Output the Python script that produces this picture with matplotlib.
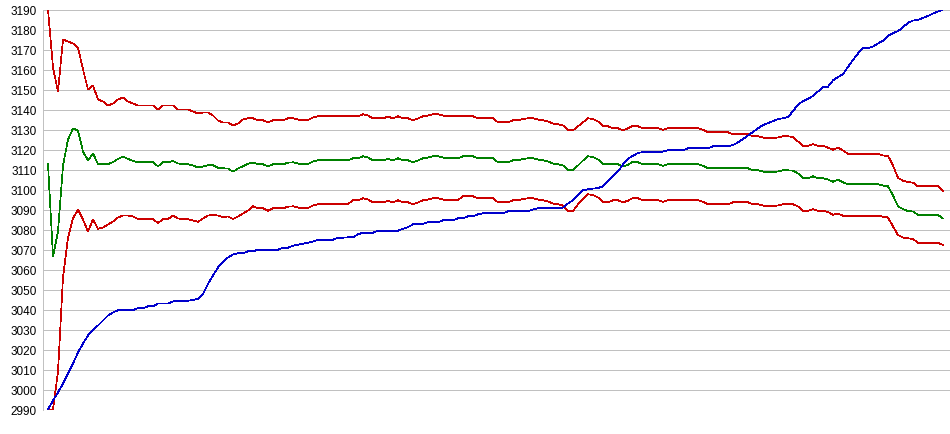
import matplotlib
matplotlib.use('Agg')
import matplotlib.pyplot as plt

# Values, one point every ~5 px
upper_band = [
    3190, 3161, 3149, 3175, 3174, 3173, 3171, 3160, 3150, 3152,
    3145, 3144, 3142, 3143, 3145, 3146, 3144, 3143, 3142, 3142,
    3142, 3142, 3140, 3142, 3142, 3142, 3140, 3140, 3140, 3139,
    3138, 3138.5, 3138.5, 3137, 3134.5, 3133.5, 3133.5, 3132, 3133, 3135,
    3135.6, 3135.6, 3134.6, 3134.6, 3133.6, 3134.6, 3134.6, 3134.6, 3135.6, 3135.6,
    3135, 3134.6, 3134.8, 3136, 3136.6, 3136.6, 3136.6, 3136.6, 3136.6, 3136.6,
    3136.6, 3136.6, 3136.6, 3137.6, 3137, 3135.6, 3135.6, 3135.6, 3136.4, 3135.6,
    3136.6, 3135.6, 3135.6, 3134.6, 3135.5, 3136.6, 3137, 3137.6, 3137.6, 3137,
    3136.6, 3136.6, 3136.6, 3136.6, 3136.6, 3136.6, 3135.6, 3135.6, 3135.6, 3135.6,
    3133.6, 3133.6, 3133.6, 3134.6, 3134.6, 3135.2, 3135.6, 3135.6, 3135, 3134.6,
    3134, 3133, 3132.6, 3132, 3129.6, 3129.6, 3131.6, 3133.6, 3135.6, 3135.2,
    3134, 3131.6, 3131.6, 3130.6, 3130.6, 3129.6, 3130.6, 3132, 3131.6, 3130.6,
    3130.6, 3130.6, 3130.6, 3129.8, 3130.6, 3130.6, 3130.6, 3130.6, 3130.6, 3130.6,
    3130.6, 3129.8, 3128.6, 3128.6, 3128.6, 3128.6, 3128.6, 3127.6, 3127.6, 3127.6,
    3127.6, 3126.6, 3126.6, 3126, 3125.6, 3125.8, 3126, 3126.6, 3126.6, 3126.2,
    3124, 3121.9, 3121.9, 3122.7, 3121.9, 3121.9, 3120.9, 3119.9, 3120.9, 3119.5,
    3117.8, 3117.8, 3117.8, 3117.8, 3117.8, 3117.8, 3117.8, 3117, 3116.8, 3112,
    3105.8, 3104.4, 3103.8, 3103.4, 3101.6, 3101.6, 3101.6, 3101.6, 3101.6, 3099.2,
]

middle_band = [
    3112.7, 3066.5, 3079, 3112, 3125, 3130.5, 3129.5, 3119, 3114.5, 3118,
    3112.7, 3112.7, 3112.7, 3113.7, 3115.3, 3116.4, 3115.3, 3114.3, 3113.6, 3113.6,
    3113.6, 3113.6, 3111.6, 3113.6, 3113.6, 3114.3, 3113, 3112.7, 3112.7, 3112,
    3111, 3111.5, 3112.2, 3112.2, 3110.8, 3110.6, 3110.5, 3108.9, 3110.5, 3111.6,
    3112.8, 3113.5, 3112.6, 3112.6, 3111.6, 3112.6, 3112.6, 3112.6, 3113.4, 3113.6,
    3113, 3112.6, 3112.8, 3114, 3114.6, 3114.6, 3114.6, 3114.6, 3114.6, 3114.6,
    3114.6, 3115.6, 3115.6, 3116.6, 3116, 3114.6, 3114.6, 3114.6, 3115.3, 3114.6,
    3115.6, 3114.6, 3114.6, 3113.6, 3114.5, 3115.6, 3116, 3116.6, 3116.6, 3116,
    3115.6, 3115.6, 3115.6, 3116.6, 3116.6, 3116.6, 3115.6, 3115.6, 3115.6, 3115.6,
    3113.6, 3113.6, 3113.6, 3114.6, 3114.6, 3115.2, 3115.6, 3115.6, 3115, 3114.6,
    3114, 3113, 3112.6, 3112, 3109.9, 3109.9, 3112, 3114.5, 3116.6, 3116.2,
    3115, 3112.6, 3112.6, 3112.6, 3112.6, 3111.6, 3112.3, 3114, 3113.6, 3112.6,
    3112.6, 3112.6, 3112.6, 3111.8, 3112.6, 3112.6, 3112.6, 3112.6, 3112.6, 3112.6,
    3112.6, 3111.8, 3110.6, 3110.6, 3110.6, 3110.6, 3110.6, 3110.6, 3110.6, 3110.6,
    3110.6, 3109.6, 3109.6, 3109, 3108.6, 3108.8, 3109, 3109.6, 3109.6, 3109.4,
    3108, 3105.6, 3105.6, 3106.6, 3105.6, 3105.6, 3105, 3103.9, 3104.8, 3103.6,
    3102.6, 3102.6, 3102.6, 3102.6, 3102.6, 3102.6, 3102.6, 3102, 3101.6, 3097,
    3091.6, 3090.2, 3089.2, 3089, 3087.3, 3087.3, 3087.3, 3087.3, 3087.3, 3085.5,
]

lower_band = [
    2990, 2990, 3009, 3056, 3076, 3085.5, 3090, 3085, 3079, 3085,
    3080.3, 3081, 3082.5, 3084, 3086, 3087, 3087, 3086.5, 3085.2, 3085.2,
    3085.2, 3085.2, 3083.2, 3085.2, 3085.2, 3087, 3085.5, 3085.2, 3085.2, 3084.5,
    3083.8, 3085.5, 3087, 3087.2, 3087, 3086.2, 3086.5, 3085.2, 3086.5, 3088,
    3089.5, 3091.6, 3090.6, 3090.6, 3089.3, 3090.6, 3090.6, 3090.6, 3091.4, 3091.6,
    3091, 3090.6, 3090.8, 3092, 3092.6, 3092.6, 3092.6, 3092.6, 3092.6, 3092.6,
    3092.8, 3094.6, 3094.6, 3095.6, 3095, 3093.6, 3093.6, 3093.6, 3094.3, 3093.6,
    3094.6, 3093.6, 3093.6, 3092.6, 3093.5, 3094.6, 3095, 3095.6, 3095.6, 3095,
    3094.6, 3094.6, 3094.8, 3096.6, 3096.6, 3096.6, 3095.6, 3095.6, 3095.6, 3095.6,
    3093.6, 3093.6, 3093.6, 3094.6, 3094.6, 3095.2, 3095.6, 3095.6, 3095, 3094.6,
    3094, 3093, 3092.6, 3092, 3089.3, 3089.3, 3092.6, 3095.2, 3097.6, 3097.2,
    3096, 3093.6, 3093.6, 3094.6, 3094.6, 3093.6, 3094.4, 3095.8, 3095.6, 3094.6,
    3094.6, 3094.6, 3094.6, 3093.8, 3094.6, 3094.6, 3094.6, 3094.6, 3094.6, 3094.6,
    3094.6, 3093.8, 3092.6, 3092.6, 3092.6, 3092.6, 3092.6, 3093.6, 3093.6, 3093.6,
    3093.6, 3092.6, 3092.6, 3092, 3091.6, 3091.8, 3092, 3092.6, 3092.6, 3092.6,
    3091.5, 3089.3, 3089.3, 3090.2, 3089.3, 3089.3, 3088.8, 3087.3, 3088, 3086.9,
    3086.9, 3086.9, 3086.9, 3086.9, 3086.9, 3086.9, 3086.9, 3086.4, 3086, 3081.5,
    3077.2, 3076, 3075.6, 3075.3, 3073.3, 3073.3, 3073.3, 3073.3, 3073.3, 3072.3,
]

price = [
    2990, 2994.5, 2998.5, 3003, 3008, 3013, 3018.5, 3023, 3027, 3030,
    3032, 3034.5, 3037, 3038.5, 3039.6, 3039.6, 3039.6, 3039.7, 3040.7, 3040.7,
    3041.6, 3041.6, 3043, 3043, 3043, 3044, 3044.4, 3044.4, 3044.4, 3044.8,
    3045.3, 3047.8, 3052.8, 3057, 3061, 3064, 3066, 3067.5, 3068.2, 3068.2,
    3069.1, 3069.1, 3069.9, 3069.9, 3069.9, 3069.9, 3069.9, 3070.9, 3070.9, 3071.9,
    3072.4, 3072.9, 3073.4, 3074, 3074.9, 3074.9, 3074.9, 3074.9, 3075.9, 3075.9,
    3076.1, 3076.1, 3077.6, 3078.4, 3078.4, 3078.4, 3079.4, 3079.4, 3079.4, 3079.4,
    3079.4, 3080.4, 3081.2, 3082.6, 3082.6, 3082.8, 3083.6, 3083.6, 3083.6, 3084.6,
    3084.6, 3084.6, 3085.6, 3085.6, 3086.6, 3086.6, 3087.6, 3088.1, 3088.1, 3088.1,
    3088.1, 3088.1, 3089.1, 3089.1, 3089.1, 3089.1, 3089.1, 3090, 3090.6, 3090.6,
    3090.6, 3090.6, 3090.6, 3091, 3093, 3094.6, 3097, 3099.6, 3100.1, 3100.4,
    3100.75, 3101.6, 3104.4, 3106.8, 3109, 3112.5, 3115.5, 3116.9, 3118.25, 3118.7,
    3118.6, 3118.6, 3118.6, 3119, 3119.6, 3119.6, 3119.6, 3119.6, 3120.6, 3120.6,
    3120.6, 3120.6, 3120.6, 3121.6, 3121.6, 3121.6, 3121.6, 3122.2, 3123.6, 3125.2,
    3127, 3128.8, 3130.6, 3132.2, 3133.2, 3134.2, 3135.2, 3135.6, 3136.2, 3139.2,
    3142.5, 3144.2, 3145.3, 3146.8, 3149, 3151.4, 3151.4, 3154.6, 3156.2, 3157.7,
    3161.3, 3164.8, 3168, 3170.6, 3170.6, 3171.5, 3173, 3174.4, 3176.8, 3178.2,
    3179.2, 3181.1, 3183.4, 3184.5, 3184.75, 3185.8, 3186.8, 3188, 3189, 3190,
]

y_ticks = list(range(2990, 3191, 10))


def make_band_chart():
    fig = plt.figure(figsize=(9.5, 4.35), dpi=100)
    ax = fig.add_axes([43 / 950, 24.5 / 435, 907 / 950, 400 / 435])

    x = list(range(len(price)))
    lw = 0.5
    ax.plot(x, upper_band, color='#cc0000', linewidth=lw, antialiased=False)
    ax.plot(x, middle_band, color='#008000', linewidth=lw, antialiased=False)
    ax.plot(x, lower_band, color='#cc0000', linewidth=lw, antialiased=False)
    ax.plot(x, price, color='#0000cc', linewidth=lw, antialiased=False)

    ax.set_xlim(-1, 180.4)
    ax.set_ylim(2990, 3190)
    ax.set_yticks(y_ticks)
    ax.set_xticks([])
    ax.grid(axis='y', color='#c0c0c0', linewidth=0.7, antialiased=False)
    ax.set_axisbelow(True)

    for side in ['top', 'right', 'bottom']:
        ax.spines[side].set_visible(False)
    ax.spines['left'].set_color('#c0c0c0')
    ax.spines['left'].set_linewidth(0.7)

    ax.tick_params(axis='y', length=0, pad=4.5, labelsize=8.5)
    for label in ax.get_yticklabels():
        label.set_family(['Liberation Sans', 'DejaVu Sans'])

    fig.savefig('out.png', dpi=100)


make_band_chart()
